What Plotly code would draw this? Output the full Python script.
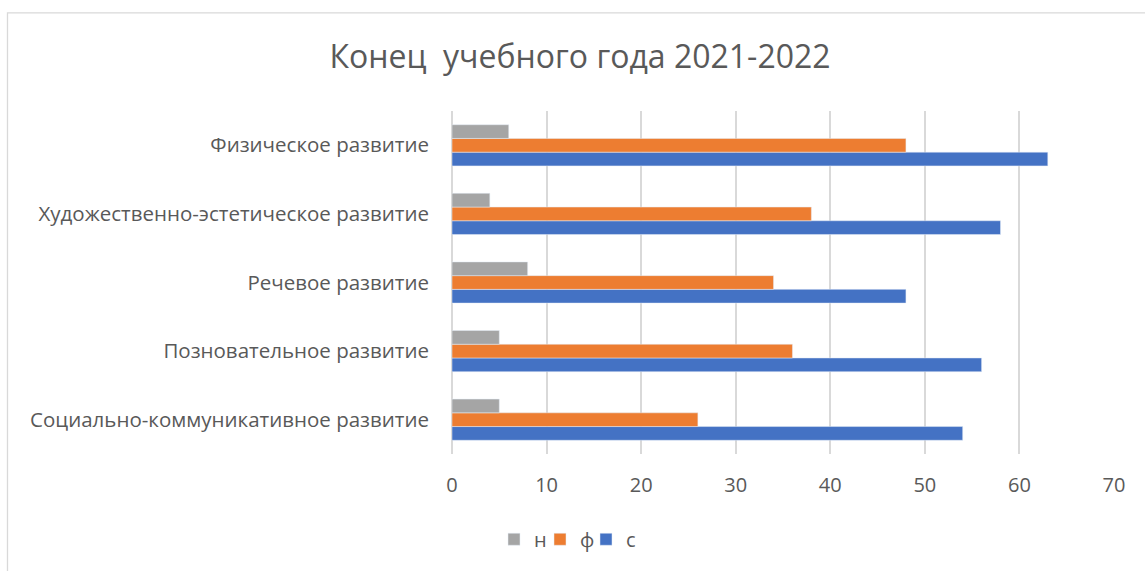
import plotly.graph_objects as go

categories = [
    "Социально-коммуникативное развитие",
    "Позновательное развитие",
    "Речевое развитие",
    "Художественно-эстетическое развитие",
    "Физическое развитие",
]
values_n = [5, 5, 8, 4, 6]
values_f = [26, 36, 34, 38, 48]
values_s = [54, 56, 48, 58, 63]
x_ticks = [0, 10, 20, 30, 40, 50, 60, 70]

FONT = "Open Sans"
GRAY_TXT = "#595959"

fig = go.Figure()
fig.add_trace(go.Bar(y=categories, x=values_s, name="с", orientation="h",
                     marker=dict(color="#4472C4"), legend="legend3"))
fig.add_trace(go.Bar(y=categories, x=values_f, name="ф", orientation="h",
                     marker=dict(color="#ED7D31"), legend="legend2"))
fig.add_trace(go.Bar(y=categories, x=values_n, name="н", orientation="h",
                     marker=dict(color="#A5A5A5"), legend="legend"))

L, R, T, B = 452, 31, 111, 114
W, H = 1145, 571
pw, ph = W - L - R, H - T - B

def px2x(px):
    return (px - L) / pw

def px2y(py):
    return (H - B - py) / ph

def leg(xpx):
    return dict(orientation="h", x=px2x(xpx), xanchor="left",
                y=px2y(543), yanchor="middle",
                font=dict(family=FONT, size=20, color=GRAY_TXT),
                itemwidth=30, bgcolor="rgba(0,0,0,0)", borderwidth=0)

fig.update_layout(
    width=W, height=H,
    margin=dict(l=L, r=R, t=T, b=B),
    paper_bgcolor="white", plot_bgcolor="white",
    barmode="group", bargap=0.4, bargroupgap=0,
    title=dict(text="Конец  учебного года 2021-2022", x=580 / W, xref="container",
               xanchor="center", y=1 - 57 / H, yref="container", yanchor="middle",
               font=dict(family=FONT, size=32, color=GRAY_TXT)),
    font=dict(family=FONT, size=20, color=GRAY_TXT),
    xaxis=dict(range=[0, 70], tickvals=x_ticks, showgrid=True,
               gridcolor="#D9D9D9", gridwidth=1.6, zeroline=True,
               zerolinecolor="#D9D9D9", zerolinewidth=1.6, showline=False,
               ticks="", ticklabelstandoff=17,
               tickfont=dict(family=FONT, size=20, color=GRAY_TXT)),
    yaxis=dict(showgrid=False, showline=False, ticks="", ticklabelstandoff=22,
               tickfont=dict(family=FONT, size=20.5, color=GRAY_TXT)),
    legend=leg(494),
    legend2=leg(540),
    legend3=leg(586),
    showlegend=True,
    shapes=[dict(type="rect", xref="paper", yref="paper",
                 x0=px2x(7.5), x1=px2x(1160), y0=px2y(12), y1=px2y(600),
                 line=dict(color="#D9D9D9", width=1.3), fillcolor="rgba(0,0,0,0)",
                 layer="below")],
)

fig.write_html("out.html", config={"displayModeBar": False},
               post_script="document.body.style.margin='0';document.body.style.overflow='hidden';")
